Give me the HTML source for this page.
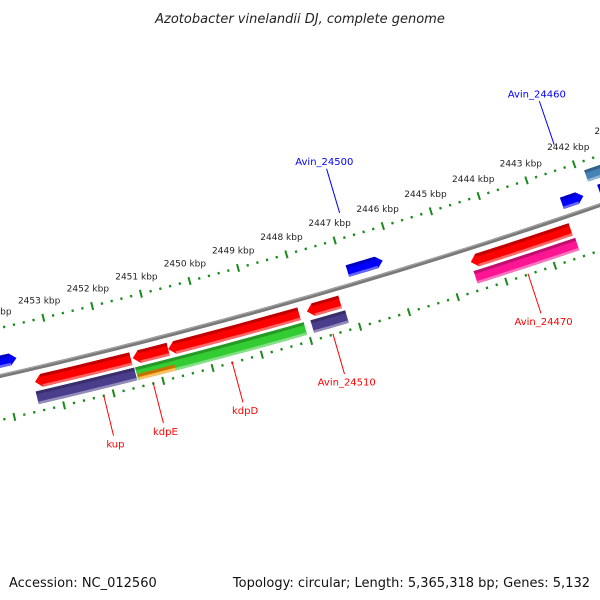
<!DOCTYPE html>
<html><head><meta charset="utf-8"><style>
html,body{margin:0;padding:0;background:#fff;}
svg{display:block;font-family:"DejaVu Sans","Liberation Sans",sans-serif;}
</style></head><body>
<svg id="map" width="600" height="600" viewBox="0 0 600 600" xmlns="http://www.w3.org/2000/svg">
<rect width="600" height="600" fill="#fff"/>
<text x="300" y="23" text-anchor="middle" font-size="13" font-style="italic" fill="#222">Azotobacter vinelandii DJ, complete genome</text>
<text x="9" y="587" font-size="13" fill="#111">Accession: NC_012560</text>
<text x="590" y="587" text-anchor="end" font-size="13" fill="#111">Topology: circular; Length: 5,365,318 bp; Genes: 5,132</text>
<g id="layer"></g>
</svg>
<script>
// data (kbp)
const tickKbp = [2455,2454,2453,2452,2451,2450,2449,2448,2447,2446,2445,2444,2443,2442,2441,2440];
const geneNames = ["kup","kdpE","kdpD","Avin_24510","Avin_24470","kup-cog","kdpDE-cog","kdpE-cog2","Avin_24510-cog","Avin_24470-cog","Avin_left","Avin_24500","Avin_24460","Avin_outer","Avin_right"];
const geneStart = [2453.45,2451.47,2450.75,2447.92,2444.55,2453.48,2451.47,2451.45,2447.90,2444.55,2454.30,2446.93,2442.48,2441.85,2441.70];
const geneEnd   = [2451.51,2450.75,2448.08,2447.24,2442.48,2451.49,2448.04,2450.71,2447.19,2442.45,2453.70,2446.20,2442.03,2440.80,2440.80];
const geneStrand= [-1,-1,-1,-1,-1,0,0,0,0,0,1,1,1,0,1];
const geneColor = ["#ff0000","#ff0000","#ff0000","#ff0000","#ff0000","#4a3d8c","#33cc33","#ff9900","#4a3d8c","#ff1493","#0000ff","#0000ff","#0000ff","#4682b4","#0000ff"];
const geneLane  = [1,1,1,1,1,2,2,3,2,2,-1,-1,-1,-2,-1];
const labelText = ["kup","kdpE","kdpD","Avin_24510","Avin_24470","Avin_24500","Avin_24460"];
const labelKbp  = [2452.2,2451.2,2449.6,2447.55,2443.55,2446.75,2442.25];
const labelSide = [1,1,1,1,1,-1,-1];
const labelColor= ["#ff0000","#ff0000","#ff0000","#ff0000","#ff0000","#0000ff","#0000ff"];

const NS="http://www.w3.org/2000/svg";
const CX=-1267, CY=-5208, R=5726;
const layer=document.getElementById('layer');
function th(k){return (76.66+(k-2453)*0.507)*Math.PI/180;}
function P(r,k){const t=th(k);return [CX+r*Math.cos(t),CY+r*Math.sin(t)];}
function arc(r,k1,k2,n){const a=[];for(let i=0;i<=n;i++){a.push(P(r,k1+(k2-k1)*i/n));}return a;}
function ps(a){return a.map(p=>p[0].toFixed(2)+","+p[1].toFixed(2)).join(" ");}
function mk(tag,attrs){const e=document.createElementNS(NS,tag);for(const k in attrs)e.setAttribute(k,attrs[k]);layer.appendChild(e);return e;}

// backbone
let bb=mk('polyline',{points:ps(arc(R,2455,2440,60)),fill:'none',stroke:'#7a7a7a','stroke-width':4});


let bb2=mk('polyline',{points:ps(arc(R-1.2,2455,2440,60)),fill:'none',stroke:'#a8a8a8','stroke-width':1});



// tick rings
const rings=[5679,5769];
rings.forEach((rr,ri)=>{
  for(let k=2455;k>=2440;k-=0.2){
    const kk=Math.round(k*10)/10;
    const major=Math.abs(kk-Math.round(kk))<0.01;
    const h=major?4:1.2;
    const a=P(rr-h,kk),b=P(rr+h,kk);
    const l=mk('line',{x1:a[0],y1:a[1],x2:b[0],y2:b[1],stroke:'#1a8a1a','stroke-width':major?2:2.2});
    
    
  }
});
tickKbp.forEach(k=>{
  const p=P(5661,k);
  const t=mk('text',{x:p[0],y:p[1]+3,'text-anchor':'middle','font-size':9,fill:'#222'});
  t.textContent=k+" kbp";
  
  
});

// genes
function laneR(l){
  if(l===1)return [R+7,R+20];
  if(l===2)return [R+23,R+36];
  if(l===3)return [R+30,R+36];
  if(l===-1)return [R-20,R-8];
  return [R-38,R-26];
}
function shade(c,f){const n=parseInt(c.slice(1),16);let r=n>>16,g=(n>>8)&255,b=n&255;
  if(f<0){r*=1+f;g*=1+f;b*=1+f;}else{r+=(255-r)*f;g+=(255-g)*f;b+=(255-b)*f;}
  return "rgb("+Math.round(r)+","+Math.round(g)+","+Math.round(b)+")";}
geneStart.forEach((s,i)=>{
  const e=geneEnd[i];let [r1,r2]=laneR(geneLane[i]);
  if(geneLane[i]===2&&i===6){}
  const head=0.13;const rm=(r1+r2)/2;
  let pts;
  if(geneStrand[i]===-1){
    pts=[P(rm,s),...arc(r1,s-head,e,12),...arc(r2,e,s-head,12)];
  }else if(geneStrand[i]===1){
    pts=[...arc(r1,s,e+head,12),P(rm,e),...arc(r2,e+head,s,12)];
  }else{
    pts=[...arc(r1,s,e,12),...arc(r2,e,s,12)];
  }
  const g=mk('polygon',{points:ps(pts),fill:geneColor[i]});
  
  
  const a1=geneStrand[i]===-1?s-head:s, a2=geneStrand[i]===1?e+head:e;
  const top=mk('polygon',{points:ps([...arc(r1,a1,a2,8),...arc(r1+3,a2,a1,8)]),fill:shade(geneColor[i],-0.25)});
  
  
  const bot=mk('polygon',{points:ps([...arc(r2-2.5,a1,a2,8),...arc(r2,a2,a1,8)]),fill:shade(geneColor[i],0.4)});
  
  
});

// labels
labelText.forEach((t,i)=>{
  const k=labelKbp[i];
  let a,b,tp;
  if(labelSide[i]===1){a=P(R+42,k);b=P(R+84,k);tp=P(R+92,k);}
  else{a=P(R-72,k);b=P(R-118,k);tp=P(R-126,k);}
  const l=mk('line',{x1:a[0],y1:a[1],x2:b[0],y2:b[1],stroke:labelColor[i],'stroke-width':1});
  
  
  const tx=mk('text',{x:tp[0],y:tp[1]+4,'text-anchor':'middle','font-size':10,fill:labelColor[i]});
  tx.textContent=t;
  
  
});
</script>
</body></html>
